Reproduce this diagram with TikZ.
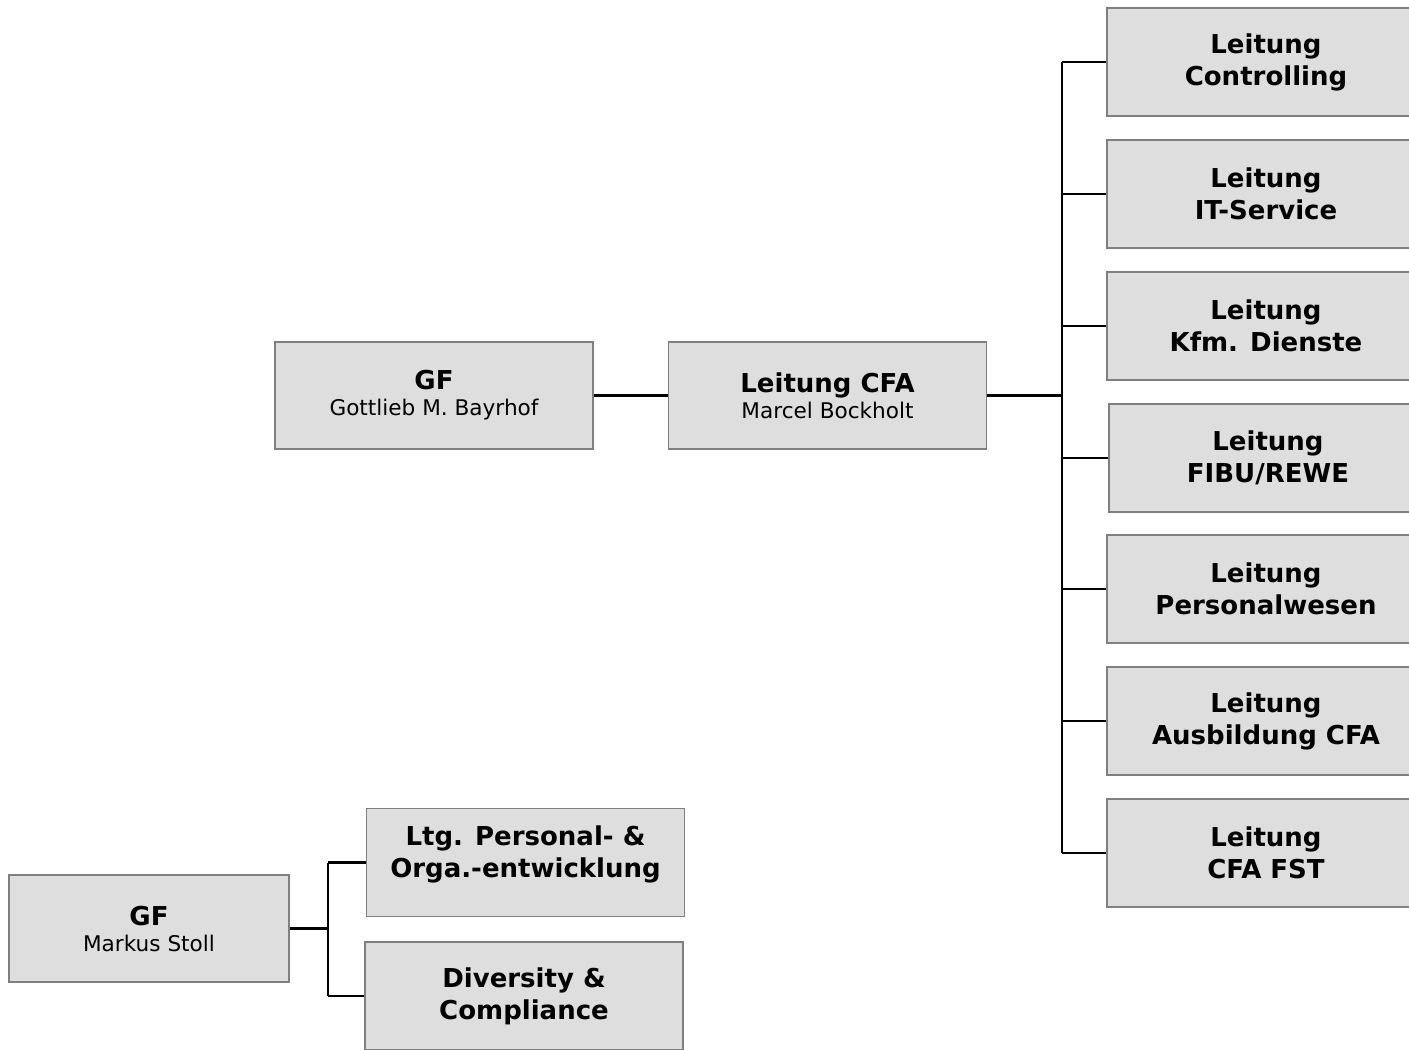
\documentclass[tikz,border=0pt]{standalone}
\usepackage{fontspec}
\setmainfont{DejaVu Sans}
\usepackage{xcolor}
\definecolor{boxfill}{HTML}{DEDEDE}
\definecolor{boxline}{HTML}{7F7F7F}
\newcommand{\namefont}{\fontsize{10.8}{12.5}\selectfont\mdseries}

\begin{document}
\begin{tikzpicture}[x=0.5pt, y=-0.5pt, line width=1.4pt, unit/.style={rectangle, draw=boxline, line width=0.7pt, fill=boxfill, inner sep=0pt, align=center, font=\fontsize{13}{16}\selectfont\bfseries}, head/.style={unit, minimum width=159pt, minimum height=53.5pt}, dept/.style={unit, minimum width=159pt, minimum height=54pt}, small head/.style={unit, minimum width=140pt, minimum height=53.5pt}]

\useasboundingbox (0,0) rectangle (1409,1050);

\node[head] (GF1) at (434,395.5) {GF\\[-3pt]\namefont Gottlieb M. Bayrhof};
\node[head] (CFA) at (827.5,395.5) {Leitung CFA\\[-3pt]\namefont Marcel Bockholt};

\node[dept] (D1) at (1266,62) {Leitung\\Controlling};
\node[dept] (D2) at (1266,194) {Leitung\\IT-Service};
\node[dept] (D3) at (1266,326) {Leitung\\Kfm. Dienste};
\node[dept] (D4) at (1268,458) {Leitung\\FIBU/REWE};
\node[dept] (D5) at (1266,589) {Leitung\\Personalwesen};
\node[dept] (D6) at (1266,721) {Leitung\\Ausbildung CFA};
\node[dept] (D7) at (1266,853) {Leitung\\CFA FST};

\node[small head] (GF2) at (149,928.5) {GF\\[-3pt]\namefont Markus Stoll};
\node[dept] (PO) at (525.5,862.5) {Ltg. Personal- \&\\Orga.-entwicklung\\[-5pt]};
\node[dept] (DC) at (524,996) {Diversity \&\\Compliance};

\coordinate (bus1) at (1062,395.5);
\coordinate (bus2) at (328,928.5);

\draw (GF1) -- (CFA);
\draw (CFA) -- (bus1);
\draw (bus1 |- D1.west) -- (bus1 |- D7.west);
\foreach \to in {D1,D2,D3,D4,D5,D6,D7}
    \draw (bus1 |- \to.west) -- (\to.west);

\draw (GF2) -- (bus2);
\draw (bus2 |- PO.west) -- (bus2 |- DC.west);
\foreach \to in {PO,DC}
    \draw (bus2 |- \to.west) -- (\to.west);
\end{tikzpicture}
\end{document}
